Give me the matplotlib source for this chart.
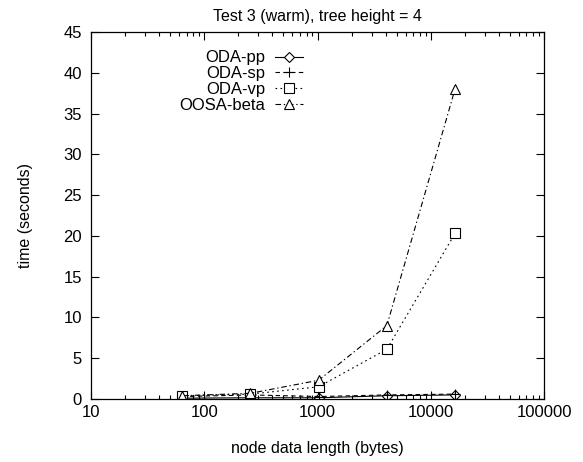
import matplotlib
matplotlib.use("Agg")
import matplotlib.pyplot as plt
from matplotlib.ticker import LogLocator, FixedLocator, NullFormatter

plt.rcParams['font.family'] = ['Liberation Sans', 'DejaVu Sans']

# node data length (bytes)
sizes = [64, 256, 1024, 4096, 16384]

# time (seconds) per implementation
oda_pp = [0.1, 0.15, 0.15, 0.4, 0.5]
oda_sp = [0.3, 0.5, 0.3, 0.5, 0.6]
oda_vp = [0.4, 0.6, 1.5, 6.1, 20.3]
oosa_beta = [0.4, 0.7, 2.3, 9.0, 38.0]

series = [
    ('ODA-pp', oda_pp, 'D', '-'),
    ('ODA-sp', oda_sp, '+', (0, (4, 3))),
    ('ODA-vp', oda_vp, 's', (0, (1.5, 3))),
    ('OOSA-beta', oosa_beta, '^', (0, (5, 2.5, 1.2, 2.5))),
]

fig = plt.figure(figsize=(5.83, 4.62), dpi=100)
ax = fig.add_axes([91/583, 1-399/462, (544-91)/583, (399-32)/462])

for name, vals, mk, ls in series:
    ms = 5 if mk == 'D' else 6.5
    ax.plot(sizes, vals, color='black', linestyle=ls, linewidth=0.8,
            marker=mk, markersize=ms, markerfacecolor='white',
            markeredgecolor='black', markeredgewidth=0.8, label=name)

ax.set_xscale('log')
ax.set_xlim(10, 100000)
ax.set_ylim(0, 45)
ax.xaxis.set_major_locator(FixedLocator([10, 100, 1000, 10000, 100000]))
ax.set_xticklabels(['10', '100', '1000', '10000', '100000'])
ax.xaxis.set_minor_locator(LogLocator(base=10, subs=range(2, 10)))
ax.xaxis.set_minor_formatter(NullFormatter())
ax.set_yticks(range(0, 46, 5))

ax.tick_params(axis='both', which='major', direction='in', length=6, width=0.8,
               top=True, right=True, labelsize=12)
ax.tick_params(axis='x', which='major', pad=4.5)
ax.tick_params(axis='y', which='major', pad=6.5)
ax.tick_params(axis='both', which='minor', direction='in', length=3, width=0.8,
               top=True, right=True)
for s in ax.spines.values():
    s.set_linewidth(0.9)

ax.set_title('Test 3 (warm), tree height = 4', fontsize=11.5, pad=8)
ax.set_xlabel('node data length (bytes)', fontsize=11.5, labelpad=15)
ax.set_ylabel('time (seconds)', fontsize=11.5, labelpad=22)

ax.legend(loc='upper right', bbox_to_anchor=(0.468, 0.95), frameon=False,
          markerfirst=False, fontsize=12, handlelength=1.7,
          labelspacing=0.05, handletextpad=0.55, borderaxespad=0,
          borderpad=0)

fig.savefig('out.png', dpi=100)
